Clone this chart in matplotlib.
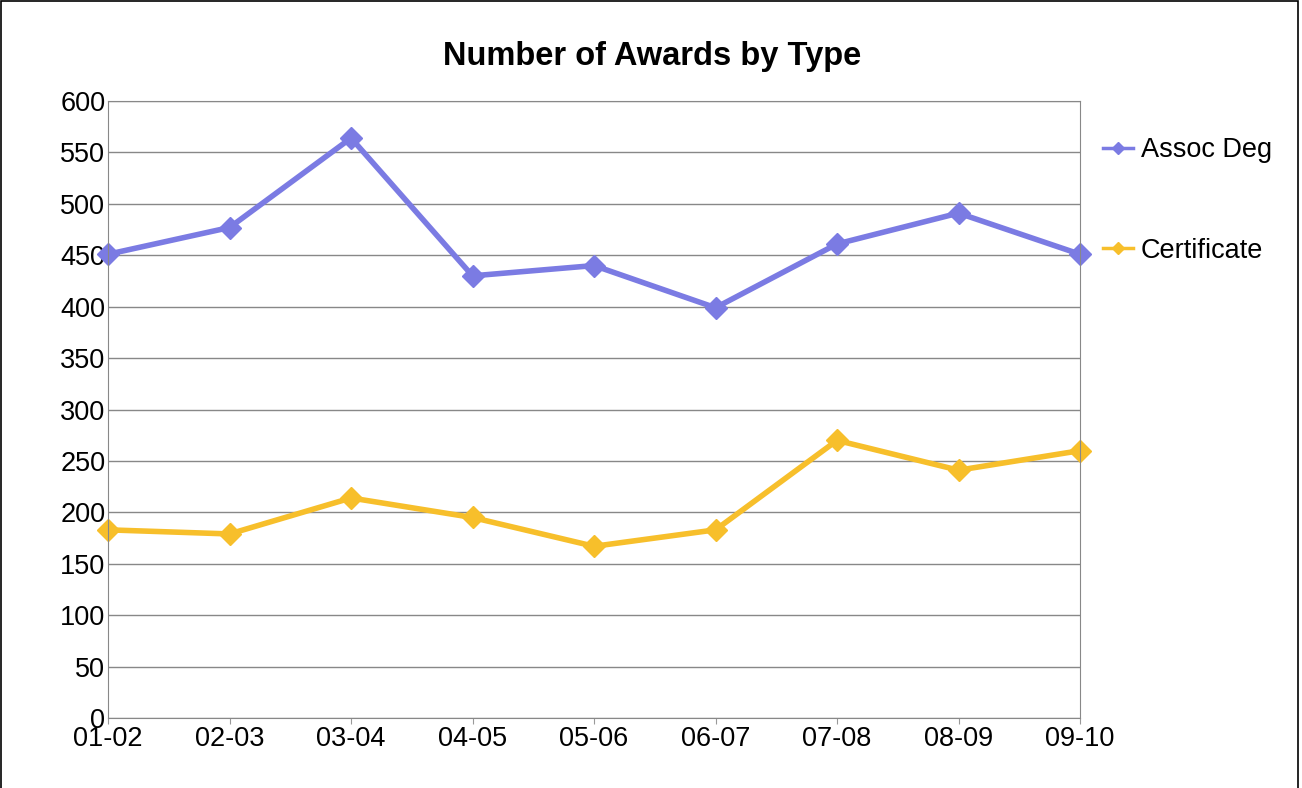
import matplotlib.pyplot as plt
from matplotlib.patches import Rectangle

years = ["01-02", "02-03", "03-04", "04-05", "05-06", "06-07", "07-08", "08-09", "09-10"]
assoc_deg = [451, 477, 564, 430, 440, 399, 461, 491, 451]
certificate = [183, 179, 214, 195, 167, 183, 270, 241, 260]

plt.rcParams['font.family'] = ['Liberation Sans', 'DejaVu Sans']

fig = plt.figure(figsize=(13.02, 7.88), dpi=100)
ax = fig.add_axes([0.083, 0.0888, 0.7465, 0.783])

x = list(range(len(years)))
ax.plot(x, assoc_deg, color="#7b7be3", lw=4, marker="D", ms=11, label="Assoc Deg", clip_on=False)
ax.plot(x, certificate, color="#f7bf2b", lw=4, marker="D", ms=11, label="Certificate", clip_on=False)

ax.set_xlim(0, 8)
ax.set_ylim(0, 600)
ax.set_yticks(range(0, 601, 50))
ax.set_xticks(x)
ax.set_xticklabels(years)
ax.tick_params(axis="y", length=0, labelsize=19.5, pad=2)
ax.tick_params(axis="x", length=4, color="#999999", labelsize=19.5, pad=2)
ax.grid(axis="y", color="#888888", lw=1)
ax.set_axisbelow(True)
for s in ax.spines.values():
    s.set_color("#888888")

fig.text(0.501, 0.928, "Number of Awards by Type", fontsize=23.5, fontweight="bold",
         ha="center", va="center")

leg = fig.legend(loc="upper left", bbox_to_anchor=(0.847, 0.826), frameon=False,
                 fontsize=19.5, handlelength=1.1, handletextpad=0.3, labelspacing=2.75,
                 borderpad=0, borderaxespad=0, markerscale=0.6)
for h in leg.legend_handles:
    h.set_linewidth(2.5)

fig.patches.append(Rectangle((0.0008, -0.01), 0.9962, 1.0087, transform=fig.transFigure,
                             fill=False, edgecolor="black", lw=1.2))

fig.savefig("out.png", dpi=100)
